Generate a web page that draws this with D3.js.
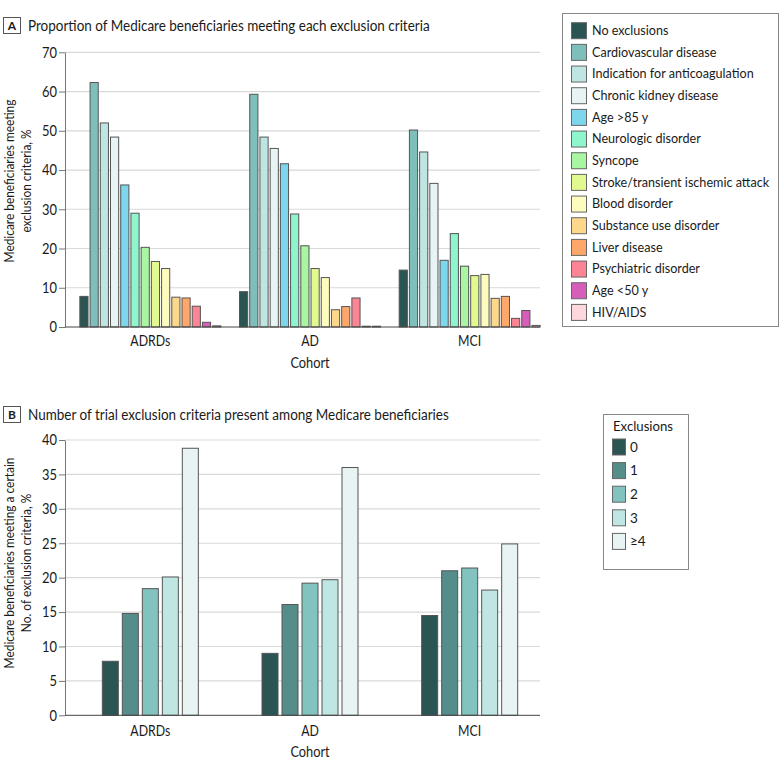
<!DOCTYPE html>
<html><head><meta charset="utf-8">
<script src="https://cdn.jsdelivr.net/npm/d3@7/dist/d3.min.js"></script>
<style>
body{margin:0;background:#fff}
svg text{font-family:Lato,"Open Sans",sans-serif;fill:#1a1a1a}
</style></head><body><svg id="c" width="780" height="771"></svg>
<script>
// ---------- data ----------
const cohorts = ["ADRDs", "AD", "MCI"];
const criteria = ["No exclusions","Cardiovascular disease","Indication for anticoagulation","Chronic kidney disease","Age >85 y","Neurologic disorder","Syncope","Stroke/transient ischemic attack","Blood disorder","Substance use disorder","Liver disease","Psychiatric disorder","Age <50 y","HIV/AIDS"];
const criteriaColors = ["#2a5553","#7fbfbb","#bfe5e3","#e8f4f4","#7dd6ec","#8ef5cd","#a8f5a2","#e2f98f","#fdfcbe","#fdd78a","#fda86a","#fc8595","#d75dbb","#fcd8dd"];
const adrdsValues = [7.8,62.3,52.0,48.4,36.2,29.0,20.3,16.7,14.9,7.6,7.4,5.3,1.2,0.3];
const adValues    = [9.0,59.3,48.4,45.5,41.6,28.8,20.7,14.9,12.6,4.4,5.2,7.4,0.2,0.2];
const mciValues   = [14.5,50.2,44.6,36.6,17.0,23.8,15.5,13.1,13.4,7.3,7.8,2.2,4.2,0.4];
const ticksA = [0,10,20,30,40,50,60,70];

const exclusionLevels = ["0","1","2","3","\u22654"];
const levelColors = ["#2a5553","#558d8a","#82c2bf","#c0e6e4","#e8f4f4"];
const adrdsCounts = [7.85,14.8,18.4,20.1,38.8];
const adCounts    = [9.0,16.1,19.2,19.7,36.0];
const mciCounts   = [14.5,21.0,21.4,18.2,24.9];
const ticksB = [0,5,10,15,20,25,30,35,40];

const seriesA = {ADRDs: adrdsValues, AD: adValues, MCI: mciValues};
const seriesB = {ADRDs: adrdsCounts, AD: adCounts, MCI: mciCounts};

// ---------- drawing ----------
const svg = d3.select("#c");
const axL = 65, axR = 540;
const x0 = d3.scaleBand().domain(cohorts).range([70.5, 549.5]);

// narrow the installed font to the reference's condensed face
function condense(sel, k){
  sel.each(function(){
    const L = this.getComputedTextLength();
    d3.select(this).attr("textLength", L*k).attr("lengthAdjust","spacingAndGlyphs");
  });
}

function panelLabel(letter, y, title){
  svg.append("rect").attr("x",3.5).attr("y",y).attr("width",17).attr("height",16)
    .attr("fill","#fff").attr("stroke","#555");
  svg.append("text").attr("x",12).attr("y",y+8).attr("dy","0.35em").attr("text-anchor","middle")
    .style("font-size","12px").style("font-weight","bold").text(letter);
  svg.append("text").attr("x",28).attr("y",y+8).attr("dy","0.35em")
    .style("font-size","14.5px").text(title).call(condense, 0.93);
}

function yAxisBlock(y, ticks, lines, labelCenter, fs){
  const g = svg.append("g");
  g.selectAll("line.grid").data(ticks.filter(t=>t>0)).join("line")
    .attr("x1",axL).attr("x2",axR).attr("y1",d=>y(d)).attr("y2",d=>y(d))
    .attr("stroke","#d9d9d9").attr("stroke-width",1.2);
  const ax = svg.append("g").attr("transform",`translate(${axL},0)`)
    .call(d3.axisLeft(y).tickValues(ticks).tickSize(6).tickPadding(2).tickSizeOuter(0));
  ax.select(".domain").attr("stroke","#777");
  ax.selectAll(".tick line").attr("stroke","#777");
  ax.selectAll(".tick text").style("font-size","15px").attr("fill","#1a1a1a").call(condense, 0.86);
  const t = svg.append("text").attr("transform",`translate(0,${labelCenter}) rotate(-90)`)
    .attr("text-anchor","middle").style("font-size",fs+"px");
  lines.forEach((s,i)=>t.append("tspan").attr("x",0).attr("y",14+i*16.5).text(s));
  t.selectAll("tspan").call(condense, 0.85);
}

function xAxisBlock(base, pad, cohortY){
  const ax = svg.append("g").attr("transform",`translate(0,${base})`)
    .call(d3.axisBottom(x0).tickSize(0).tickPadding(pad));
  ax.select(".domain").remove();
  ax.selectAll(".tick text").style("font-size","14.5px").attr("fill","#1a1a1a").call(condense, 0.85);
  svg.append("line").attr("x1",axL).attr("x2",axR).attr("y1",base).attr("y2",base).attr("stroke","#444");
  svg.append("text").attr("x",(x0("AD")+x0.bandwidth()/2)).attr("y",cohortY).attr("dy","0.35em")
    .attr("text-anchor","middle").style("font-size","14.5px").text("Cohort").call(condense, 0.88);
}

// ---- Panel A ----
panelLabel("A", 17.5, "Proportion of Medicare beneficiaries meeting each exclusion criteria");
const yA = d3.scaleLinear().domain([0,70]).range([327,52.3]);
yAxisBlock(yA, ticksA, ["Medicare beneficiaries meeting","exclusion criteria, %"], 181, 14);
const x1A = d3.scaleBand().domain(criteria).range([-71.5,71.5]).paddingInner(0.2).paddingOuter(0.1);
cohorts.forEach(c=>{
  const g = svg.append("g").attr("transform",`translate(${x0(c)+x0.bandwidth()/2},0)`);
  g.selectAll("rect").data(seriesA[c].map((v,i)=>({k:criteria[i],v,col:criteriaColors[i]}))).join("rect")
    .attr("x",d=>x1A(d.k)).attr("width",x1A.bandwidth())
    .attr("y",d=>yA(d.v)).attr("height",d=>yA(0)-yA(d.v))
    .attr("fill",d=>d.col).attr("stroke","#555").attr("stroke-width",1);
});
xAxisBlock(327, 9, 363);

// Legend A
const legA = svg.append("g");
legA.append("rect").attr("x",562.5).attr("y",13.5).attr("width",216).attr("height",313)
  .attr("fill","#fff").attr("stroke","#888");
criteria.forEach((k,i)=>{
  const cy = 30.7 + i*21.67;
  legA.append("rect").attr("x",571.5).attr("y",cy-8).attr("width",15).attr("height",16)
    .attr("fill",criteriaColors[i]).attr("stroke","#666");
  legA.append("text").attr("x",592).attr("y",cy).attr("dy","0.35em").style("font-size","12.6px").text(k);
});

// ---- Panel B ----
panelLabel("B", 406.5, "Number of trial exclusion criteria present among Medicare beneficiaries");
const yB = d3.scaleLinear().domain([0,40]).range([715.3,440]);
yAxisBlock(yB, ticksB, ["Medicare beneficiaries meeting a certain","No. of exclusion criteria, %"], 563, 14);
const x1B = d3.scaleBand().domain(exclusionLevels).range([-50,50]).paddingInner(0.2).paddingOuter(0.1);
cohorts.forEach(c=>{
  const g = svg.append("g").attr("transform",`translate(${x0(c)+x0.bandwidth()/2},0)`);
  g.selectAll("rect").data(seriesB[c].map((v,i)=>({k:exclusionLevels[i],v,col:levelColors[i]}))).join("rect")
    .attr("x",d=>x1B(d.k)).attr("width",x1B.bandwidth())
    .attr("y",d=>yB(d.v)).attr("height",d=>yB(0)-yB(d.v))
    .attr("fill",d=>d.col).attr("stroke","#555").attr("stroke-width",1);
});
xAxisBlock(715.3, 10, 752);

// Legend B
const legB = svg.append("g");
legB.append("rect").attr("x",603.5).attr("y",414.5).attr("width",85).attr("height",155)
  .attr("fill","#fff").attr("stroke","#888");
legB.append("text").attr("x",613).attr("y",426).attr("dy","0.35em").style("font-size","13.2px").text("Exclusions");
exclusionLevels.forEach((k,i)=>{
  const cy = 447 + i*23.6;
  legB.append("rect").attr("x",612.5).attr("y",cy-8).attr("width",13).attr("height",16)
    .attr("fill",levelColors[i]).attr("stroke","#666");
  legB.append("text").attr("x",630).attr("y",cy).attr("dy","0.35em").style("font-size","13.5px").text(k);
});
</script></body></html>
